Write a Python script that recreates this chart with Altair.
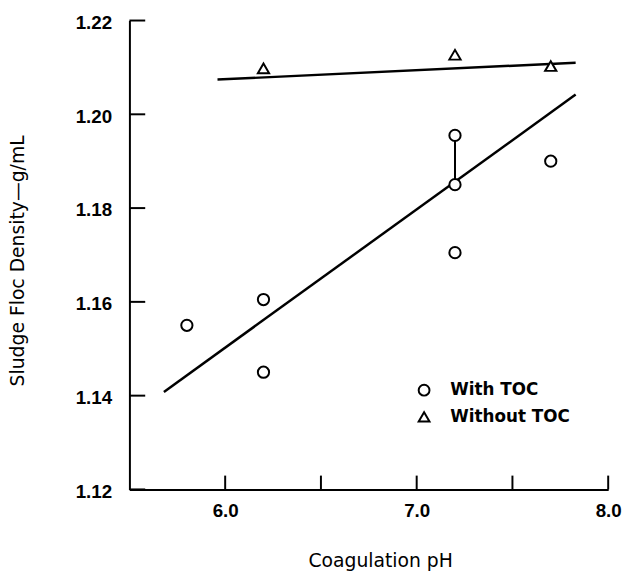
import altair as alt
import pandas as pd

# ---- data ----
with_ph = [5.8, 6.2, 6.2, 7.2, 7.2, 7.2, 7.7]
with_density = [1.155, 1.1605, 1.145, 1.1955, 1.185, 1.1705, 1.190]
without_ph = [6.2, 7.2, 7.7]
without_density = [1.2098, 1.2127, 1.2103]

with_fit_ph = [5.68, 7.83]
with_fit_density = [1.1408, 1.2042]
without_fit_ph = [5.96, 7.83]
without_fit_density = [1.2074, 1.2110]

range_ph = [7.2]
range_low = [1.185]
range_high = [1.1955]

x_tick_values = [6.0, 6.5, 7.0, 7.5, 8.0]
x_label_values = [6.0, 7.0, 8.0]
y_tick_values = [1.12, 1.14, 1.16, 1.18, 1.20, 1.22]
series_names = ["With TOC", "Without TOC"]

# ---- tables ----
points = pd.DataFrame({
    "ph": with_ph + without_ph,
    "density": with_density + without_density,
    "series": [series_names[0]] * len(with_ph) + [series_names[1]] * len(without_ph),
})
fits = pd.DataFrame({
    "ph": with_fit_ph + without_fit_ph,
    "density": with_fit_density + without_fit_density,
    "series": [series_names[0]] * 2 + [series_names[1]] * 2,
})
rng = pd.DataFrame({"ph": range_ph, "density": range_low, "density2": range_high})
xt = pd.DataFrame({"ph": x_tick_values})
yt = pd.DataFrame({"density": y_tick_values})

W, H = 485, 475
LABEL_FONT = "Liberation Sans"
TITLE_FONT = "DejaVu Sans"
X_TITLE = "Coagulation pH"
Y_TITLE = "Sludge Floc Density\u2014g/mL"

x_axis = alt.Axis(
    values=x_label_values, format=".1f", ticks=False, grid=False,
    domainColor="black", domainWidth=2, labelFlush=False,
    labelFont=LABEL_FONT, labelFontWeight="bold", labelFontSize=19,
    labelColor="black", labelPadding=12,
    title=X_TITLE, titleFont=TITLE_FONT, titleFontWeight="normal",
    titleFontSize=19, titleColor="black", titleX=254, titleY=78,
    titleAlign="center", titleBaseline="alphabetic",
)
y_axis = alt.Axis(
    values=y_tick_values, format=".2f", ticks=False,
    grid=False, domainColor="black", domainWidth=2, labelFlush=False,
    labelFont=LABEL_FONT, labelFontWeight="bold", labelFontSize=19,
    labelColor="black", labelPadding=18, labelOffset=2,
    title=Y_TITLE, titleFont=TITLE_FONT,
    titleFontWeight="normal", titleFontSize=19, titleColor="black",
    titleAngle=270, titleX=-107, titleY=243, titleAlign="center",
    titleBaseline="alphabetic",
)

x_enc = alt.X("ph:Q", scale=alt.Scale(domain=[5.5, 8.0], nice=False, zero=False),
              axis=x_axis, title=X_TITLE)
y_enc = alt.Y("density:Q", scale=alt.Scale(domain=[1.12, 1.22], nice=False, zero=False),
              axis=y_axis, title=Y_TITLE)
shape_scale = alt.Scale(domain=series_names, range=["circle", "triangle-up"])

fit_lines = alt.Chart(fits).mark_line(color="black", strokeWidth=2.5).encode(
    x=x_enc, y=y_enc, detail="series:N"
)

range_rule = alt.Chart(rng).mark_rule(color="black", strokeWidth=2).encode(
    x=x_enc, y=y_enc, y2=alt.Y2("density2:Q")
)

pts_bg = alt.Chart(points).mark_point(
    filled=True, color="white", opacity=1, size=130
).encode(
    x=x_enc, y=y_enc,
    shape=alt.Shape("series:N", scale=shape_scale, legend=None),
)

pts = alt.Chart(points).mark_point(
    filled=False, color="black", strokeWidth=2, size=130, opacity=1
).encode(
    x=x_enc, y=y_enc,
    shape=alt.Shape(
        "series:N", scale=shape_scale,
        legend=alt.Legend(
            title=None, orient="none", legendX=290, legendY=366,
            labelFont=TITLE_FONT, labelFontWeight="bold", labelFontSize=17,
            labelColor="black", labelOffset=18, rowPadding=8, padding=0,
            symbolStrokeColor="black", symbolStrokeWidth=2,
            symbolSize=120, symbolOpacity=1,
        ),
    ),
)

x_ticks = alt.Chart(xt).mark_rule(color="black", strokeWidth=2).encode(
    x=x_enc, y=alt.value(H), y2=alt.value(H - 14)
)
y_ticks = alt.Chart(yt).mark_rule(color="black", strokeWidth=2).encode(
    y=y_enc, x=alt.value(0), x2=alt.value(16)
)

chart = alt.layer(fit_lines, range_rule, x_ticks, y_ticks, pts_bg, pts).resolve_legend(
    shape="independent"
).properties(
    width=W, height=H,
    autosize=alt.AutoSizeParams(type="none"),
    padding={"left": 123, "top": 9, "right": 15, "bottom": 83},
    background="white",
).configure_view(stroke=None)

chart.save("out.html", embed_options={"renderer": "svg", "actions": False})
